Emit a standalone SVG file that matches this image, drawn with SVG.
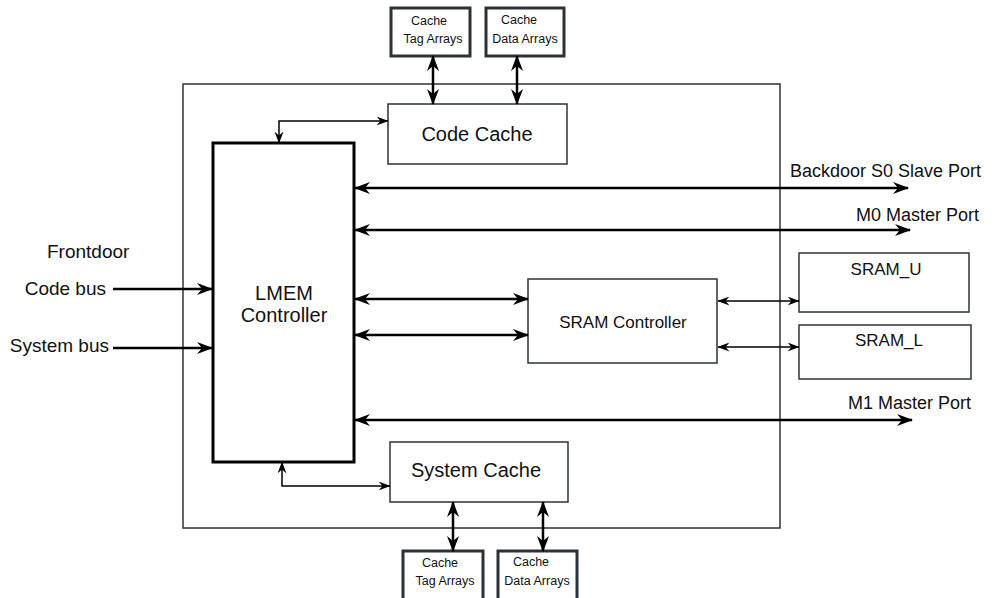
<svg xmlns="http://www.w3.org/2000/svg" width="997" height="598" viewBox="0 0 997 598">
<style>
text{font-family:"Liberation Sans",Arial,sans-serif;fill:#111}
.box{fill:#fff;stroke:#2b3338;stroke-width:1.5}
.thick{fill:#fff;stroke:#2b3338;stroke-width:3}
.lmem{fill:#fff;stroke:#000;stroke-width:3}
.bus{fill:none;stroke:#000;stroke-width:2.5}
.thin{fill:none;stroke:#000;stroke-width:1.5}
.big{font-size:20px}
.lbl{font-size:18px}
.left{font-size:19px}
.mid{font-size:17px}
.sm{font-size:12.5px}
</style>
<defs>
<marker id="ah" markerUnits="userSpaceOnUse" markerWidth="16" markerHeight="12" viewBox="0 0 16 12" refX="15" refY="6" orient="auto-start-reverse">
<path d="M0,0 L16,6 L0,12 L5,6 Z" fill="#000"/>
</marker>
<marker id="as" markerUnits="userSpaceOnUse" markerWidth="12" markerHeight="9" viewBox="0 0 12 9" refX="11.5" refY="4.5" orient="auto-start-reverse">
<path d="M0,0 L12,4.5 L0,9 L4,4.5 Z" fill="#000"/>
</marker>
</defs>
<rect width="997" height="598" fill="#fff"/>
<g id="outer"><rect class="box" x="183" y="84" width="597" height="444"/></g>
<g id="lmem">
<rect class="lmem" x="213" y="143" width="141" height="319"/>
<text class="big" x="284" y="300" text-anchor="middle">LMEM</text>
<text class="big" x="284" y="322" text-anchor="middle">Controller</text>
</g>
<g id="codecache">
<rect class="box" x="388" y="104" width="179" height="60"/>
<text class="big" x="477" y="141" text-anchor="middle">Code Cache</text>
</g>
<g id="syscache">
<rect class="box" x="390" y="442" width="178" height="60"/>
<text class="big" x="476" y="477" text-anchor="middle">System Cache</text>
</g>
<g id="tagtop">
<rect class="thick" x="391" y="8" width="79" height="48"/>
<text class="sm" x="429" y="25" text-anchor="middle">Cache</text>
<text class="sm" x="433" y="43" text-anchor="middle">Tag Arrays</text>
</g>
<g id="datatop">
<rect class="thick" x="486" y="8" width="78" height="48"/>
<text class="sm" x="519" y="24" text-anchor="middle">Cache</text>
<text class="sm" x="525" y="43" text-anchor="middle">Data Arrays</text>
</g>
<g id="tagbot">
<rect class="thick" x="403" y="551" width="80" height="52"/>
<text class="sm" x="440" y="567" text-anchor="middle">Cache</text>
<text class="sm" x="445" y="585" text-anchor="middle">Tag Arrays</text>
</g>
<g id="databot">
<rect class="thick" x="498" y="551" width="79" height="52"/>
<text class="sm" x="531" y="566" text-anchor="middle">Cache</text>
<text class="sm" x="537" y="585" text-anchor="middle">Data Arrays</text>
</g>
<g id="sramctrl">
<rect class="box" x="528" y="279" width="189" height="84"/>
<text class="mid" x="623" y="328" text-anchor="middle">SRAM Controller</text>
</g>
<g id="sramu">
<rect class="box" x="799" y="253" width="170" height="59"/>
<text class="mid" x="886" y="275" text-anchor="middle">SRAM_U</text>
</g>
<g id="sraml">
<rect class="box" x="799" y="325" width="172" height="54"/>
<text class="mid" x="889" y="346" text-anchor="middle">SRAM_L</text>
</g>
<g id="labels">
<text class="left" x="47" y="258">Frontdoor</text>
<text class="left" x="106" y="295" text-anchor="end">Code bus</text>
<text class="left" x="109" y="352" text-anchor="end">System bus</text>
<text class="lbl" x="790" y="177">Backdoor S0 Slave Port</text>
<text class="lbl" x="856" y="221">M0 Master Port</text>
<text class="lbl" x="848" y="409">M1 Master Port</text>
</g>
<g id="connectors">
<line class="bus" x1="113" y1="289" x2="212" y2="289" marker-end="url(#ah)"/>
<line class="bus" x1="113" y1="348" x2="212" y2="348" marker-end="url(#ah)"/>
<path class="thin" d="M279,143 V121 H388" marker-start="url(#as)" marker-end="url(#as)"/>
<path class="thin" d="M282,462 V486 H390" marker-start="url(#as)" marker-end="url(#as)"/>
<line class="bus" x1="433" y1="56" x2="433" y2="104" marker-start="url(#ah)" marker-end="url(#ah)"/>
<line class="bus" x1="517" y1="56" x2="517" y2="104" marker-start="url(#ah)" marker-end="url(#ah)"/>
<line class="bus" x1="453" y1="502" x2="453" y2="551" marker-start="url(#ah)" marker-end="url(#ah)"/>
<line class="bus" x1="543" y1="502" x2="543" y2="551" marker-start="url(#ah)" marker-end="url(#ah)"/>
<line class="bus" x1="355" y1="188" x2="908" y2="188" marker-start="url(#ah)" marker-end="url(#ah)"/>
<line class="bus" x1="355" y1="230" x2="910" y2="230" marker-start="url(#ah)" marker-end="url(#ah)"/>
<line class="bus" x1="355" y1="299" x2="528" y2="299" marker-start="url(#ah)" marker-end="url(#ah)"/>
<line class="bus" x1="355" y1="335" x2="528" y2="335" marker-start="url(#ah)" marker-end="url(#ah)"/>
<line class="bus" x1="355" y1="420" x2="912" y2="420" marker-start="url(#ah)" marker-end="url(#ah)"/>
<line class="thin" x1="718" y1="301" x2="799" y2="301" marker-start="url(#as)" marker-end="url(#as)"/>
<line class="thin" x1="718" y1="347" x2="799" y2="347" marker-start="url(#as)" marker-end="url(#as)"/>
</g>
</svg>
